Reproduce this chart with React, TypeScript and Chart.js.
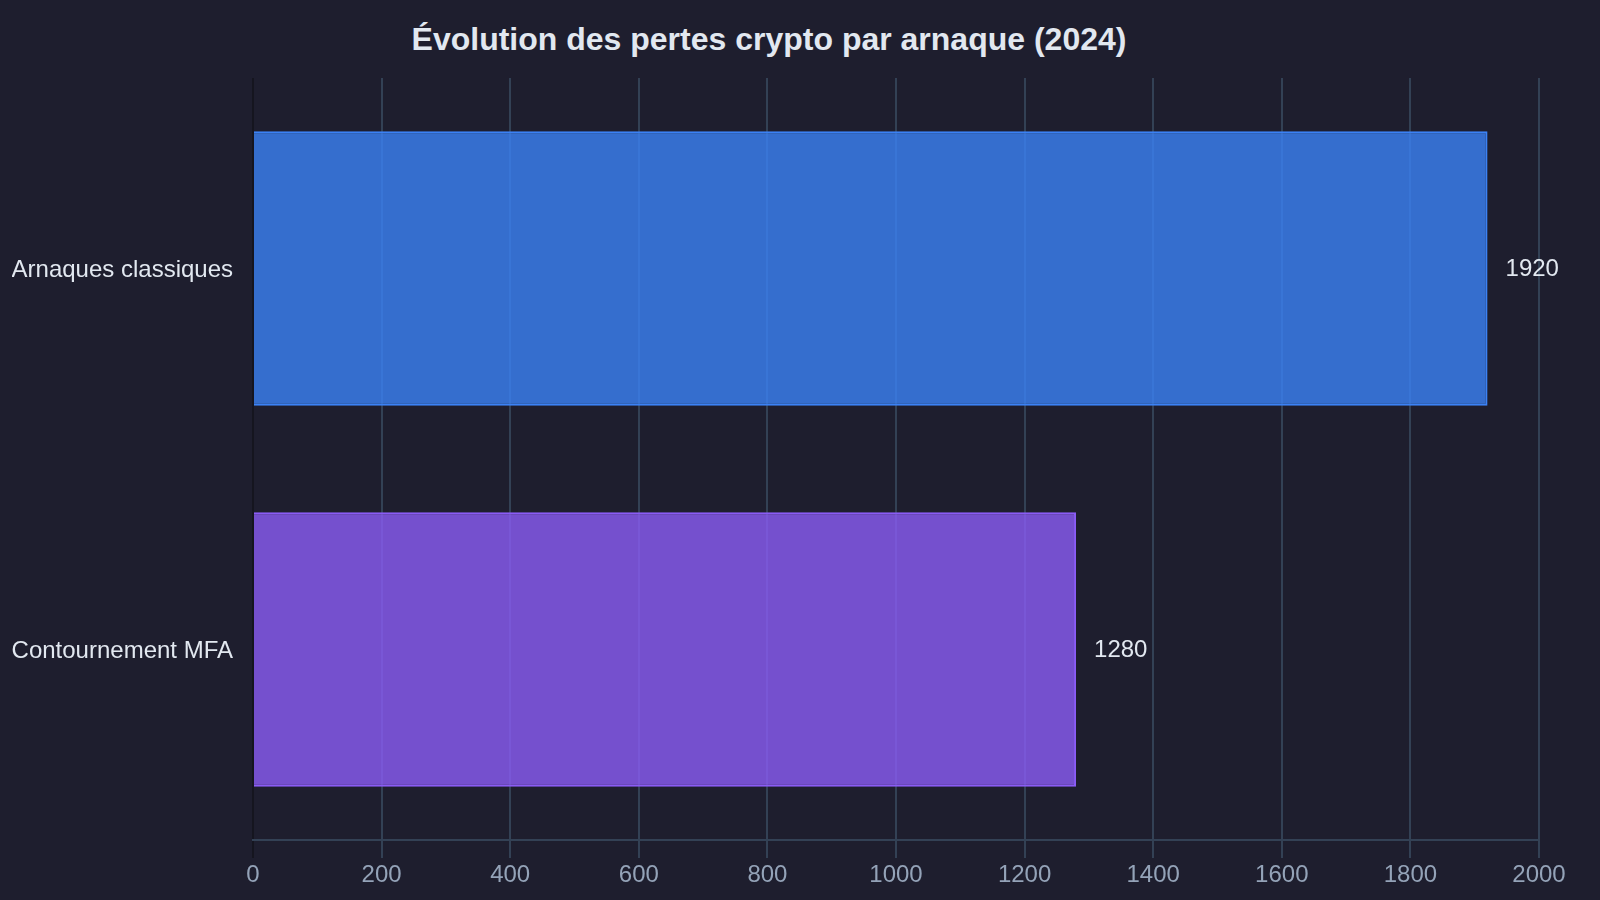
import { useEffect, useRef } from "react";
import { Chart, registerables } from "chart.js";

Chart.register(...registerables);

const categories = ["Arnaques classiques", "Contournement MFA"];
const losses = [1920, 1280];
const fillColors = ["rgba(59, 130, 246, 0.8)", "rgba(139, 92, 246, 0.8)"];
const borderColors = ["#3b82f6", "#8b5cf6"];
const xMax = 2000;
const xStep = 200;

const FONT = "'Liberation Sans', Arial, sans-serif";

// draws the value next to the end of each bar
const valueLabels = {
  id: "valueLabels",
  afterDatasetsDraw(chart: Chart) {
    const ctx = chart.ctx;
    const meta = chart.getDatasetMeta(0);
    const data = chart.data.datasets[0].data as number[];
    ctx.save();
    ctx.font = `24px ${FONT}`;
    ctx.fillStyle = "#e2e8f0";
    ctx.textAlign = "left";
    ctx.textBaseline = "middle";
    meta.data.forEach((bar: any, i: number) => {
      ctx.fillText(String(data[i]), bar.x + 18, bar.y + 1);
    });
    ctx.restore();
  }
};

export default function App() {
  const canvasRef = useRef<HTMLCanvasElement | null>(null);

  useEffect(() => {
    if (!canvasRef.current) return;
    const ctx = canvasRef.current.getContext("2d");
    if (!ctx) return;

    const chart = new Chart(ctx, {
      type: "bar",
      data: {
        labels: categories,
        datasets: [
          {
            label: "Pertes",
            data: losses,
            backgroundColor: fillColors,
            borderColor: borderColors,
            borderWidth: 2,
            categoryPercentage: 0.8,
            barPercentage: 0.9
          }
        ]
      },
      options: {
        indexAxis: "y",
        responsive: true,
        maintainAspectRatio: false,
        animation: false,
        layout: { padding: { left: 12, right: 61, top: 78, bottom: 0 } },
        plugins: {
          legend: { display: false },
          title: { display: false },
          tooltip: { enabled: false }
        },
        scales: {
          x: {
            min: 0,
            max: xMax,
            afterFit: (scale: any) => {
              scale.height = 60;
            },
            border: { display: true, color: "#334155", width: 2 },
            grid: {
              color: (c: any) => (c.tick && c.tick.value === 0 ? "#15151f" : "#334155"),
              lineWidth: 2,
              drawTicks: true,
              tickLength: 18
            },
            ticks: {
              stepSize: xStep,
              color: "#94a3b8",
              padding: 3,
              font: { size: 24, family: FONT },
              callback: (v: any) => String(v)
            }
          },
          y: {
            afterFit: (scale: any) => {
              scale.width = 241;
            },
            border: { display: false },
            grid: { display: false, drawTicks: false },
            ticks: {
              color: "#e2e8f0",
              padding: 20,
              labelOffset: 2,
              font: { size: 24, family: FONT }
            }
          }
        }
      },
      plugins: [valueLabels]
    });

    return () => chart.destroy();
  }, []);

  return (
    <div
      style={{
        position: "fixed",
        left: 0,
        top: 0,
        width: 1600,
        height: 900,
        background: "#1e1e2e"
      }}
    >
      <div
        style={{
          position: "absolute",
          left: 0,
          top: 0,
          width: 1538,
          height: 78,
          display: "flex",
          alignItems: "center",
          justifyContent: "center",
          fontFamily: FONT,
          fontWeight: "bold",
          fontSize: 32,
          color: "#e2e8f0"
        }}
      >
        Évolution des pertes crypto par arnaque (2024)
      </div>
      <div style={{ position: "absolute", left: 0, top: 0, width: 1600, height: 900 }}>
        <canvas ref={canvasRef} />
      </div>
    </div>
  );
}
